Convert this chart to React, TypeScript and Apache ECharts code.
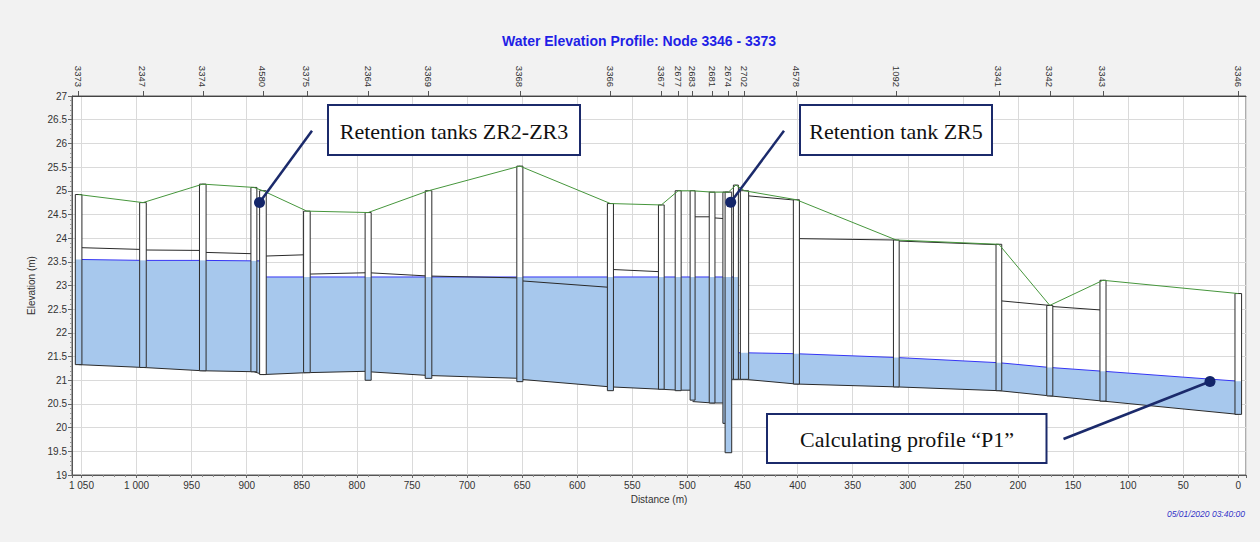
import React, { useEffect, useRef } from "react";
import * as echarts from "echarts";

// ---- Nodes (manholes / tanks), ordered left (upstream) to right ----
const nodeNames = ["3373", "2347", "3374", "", "4580", "3375", "2364", "3369", "3368", "3366", "3367", "2677", "2683", "2681", "", "2674", "", "2702", "4578", "1092", "3341", "3342", "3343", "3346"];
const nodeDist = [1052.6, 994.2, 939.9, 893.5, 885.3, 845.4, 789.8, 735.0, 652.1, 569.9, 523.7, 508.4, 495.3, 477.6, 465.3, 462.8, 456.0, 448.2, 401.1, 310.4, 217.3, 171.1, 122.8, 0];
const nodeWidth = [6, 6, 6, 5.4, 6, 6, 5.5, 6, 5.5, 5.5, 5.2, 5.4, 4.5, 5.2, 5.0, 6.0, 4.5, 7.5, 5.5, 5.2, 5.2, 5.5, 5.5, 6];
const nodeGround = [24.92, 24.75, 25.14, 25.07, 25.0, 24.57, 24.54, 25.0, 25.52, 24.73, 24.70, 25.0, 25.0, 24.97, 24.97, 24.97, 25.12, 25.0, 24.81, 23.96, 23.87, 22.58, 23.11, 22.83];
const nodeInvert = [21.33, 21.27, 21.20, 21.18, 21.12, 21.16, 21.0, 21.04, 20.97, 20.78, 20.81, 20.78, 20.58, 20.52, 20.09, 19.47, 21.02, 21.02, 20.92, 20.86, 20.78, 20.67, 20.56, 20.28];
const nodeWater: (number | null)[] = [23.55, 23.53, 23.53, 23.52, null, 23.18, 23.18, 23.18, 23.18, 23.18, 23.18, 23.18, 23.18, 23.18, 23.18, 23.18, 23.18, 21.58, 21.56, 21.48, 21.37, 21.27, 21.19, 20.98];

// ---- Links between consecutive nodes (left end / right end) ----
const linkCrownL: (number | null)[] = [23.80, 23.75, 23.70, null, 23.62, 23.24, 23.27, 23.20, 23.10, 23.34, null, null, 24.45, 24.43, null, null, null, 24.90, 23.99, 23.94, 22.68, 22.56, null];
const linkCrownR: (number | null)[] = [23.76, 23.74, 23.67, null, 23.65, 23.27, 23.20, 23.16, 22.96, 23.29, null, null, 24.45, 24.41, null, null, null, 24.80, 23.96, 23.86, 22.58, 22.48, null];
const linkInvL = [21.33, 21.27, 21.20, 21.18, 21.12, 21.16, 21.18, 21.10, 21.02, 20.86, 20.81, 20.79, 20.55, 20.52, 20.09, 21.02, 21.02, 21.02, 20.92, 20.86, 20.78, 20.67, 20.56];
const linkInvR = [21.27, 21.20, 21.18, 21.12, 21.16, 21.19, 21.10, 21.04, 20.86, 20.81, 20.79, 20.79, 20.52, 20.52, 20.09, 21.02, 21.02, 20.92, 20.86, 20.78, 20.67, 20.56, 20.28];
const linkWaterL = [23.55, 23.53, 23.53, 23.52, 23.18, 23.18, 23.18, 23.18, 23.18, 23.18, 23.18, 23.18, 23.18, 23.18, 23.18, 23.18, 21.58, 21.58, 21.56, 21.48, 21.37, 21.27, 21.19];
const linkWaterR = [23.53, 23.53, 23.52, 23.52, 23.18, 23.18, 23.18, 23.18, 23.18, 23.18, 23.18, 23.18, 23.18, 23.18, 23.18, 23.18, 21.58, 21.56, 21.48, 21.37, 21.27, 21.19, 20.98];

// ---- Axes ----
const xMin = -7;
const xMax = 1058.6;
const yMin = 19;
const yMax = 27;

const SANS = "'Liberation Sans', Arial, sans-serif";
const SERIF = "'Liberation Serif', 'Times New Roman', serif";
const WATER_FILL = "#a7c8ed";
const WATER_LINE = "#3535f5";
const PIPE = "#2a2a2a";
const GROUND = "#46963c";
const NAVY = "#1b2a6b";

function fmtDist(v: number): string {
  if (Math.abs(v % 50) > 1e-6) return "";
  if (v >= 1000) return "1 " + String(Math.round(v - 1000)).padStart(3, "0");
  return String(Math.round(v));
}

export default function App() {
  const ref = useRef<HTMLDivElement>(null);
  useEffect(() => {
    if (!ref.current) return;
    const chart = echarts.init(ref.current, null, { renderer: "svg" });
    const labeled = nodeDist.filter((_, i) => nodeNames[i] !== "");
    const nameMap = new Map<number, string>();
    nodeDist.forEach((d, i) => {
      if (nodeNames[i]) nameMap.set(d, nodeNames[i]);
    });

    const option: any = {
      animation: false,
      backgroundColor: "#f2f2f2",
      title: {
        text: "Water Elevation Profile: Node 3346 - 3373",
        left: 502,
        top: 34,
        padding: 0,
        textStyle: { color: "#1f1fe6", fontSize: 14, fontWeight: "bold", fontFamily: SANS },
      },
      grid: {
        left: 72, right: 14, top: 96, bottom: 67,
        show: true, backgroundColor: "#ffffff", borderColor: "#5a5a5a", borderWidth: 1,
      },
      xAxis: [
        {
          type: "value", position: "bottom", inverse: true,
          min: xMin, max: xMax, splitNumber: 21, minInterval: 50, maxInterval: 50,
          name: "Distance (m)", nameLocation: "middle", nameGap: 17,
          nameTextStyle: { fontSize: 10, color: "#333", fontFamily: SANS },
          axisLine: { show: true, onZero: false, lineStyle: { color: "#555" } },
          axisTick: { show: true, length: 3, lineStyle: { color: "#666" } },
          minorTick: { show: true, splitNumber: 5, length: 2, lineStyle: { color: "#888" } },
          axisLabel: { formatter: fmtDist, showMinLabel: false, showMaxLabel: false, margin: 5, fontSize: 10, color: "#333", fontFamily: SANS },
          splitLine: { show: true, lineStyle: { color: "#dadada", width: 1 } },
        },
        {
          type: "value", position: "top", inverse: true,
          min: xMin, max: xMax,
          axisLine: { show: true, onZero: false, lineStyle: { color: "#444" } },
          axisTick: { show: true, length: 5, customValues: labeled, lineStyle: { color: "#555" } },
          axisLabel: {
            customValues: labeled, rotate: 90, margin: 9, fontSize: 9.5, color: "#333", fontFamily: SANS,
            formatter: (v: number) => nameMap.get(v) ?? "",
          },
          splitLine: { show: false },
          minorTick: { show: false },
        },
      ],
      yAxis: {
        type: "value", min: yMin, max: yMax, interval: 0.5,
        name: "Elevation (m)", nameLocation: "middle", nameGap: 34, nameRotate: 90,
        nameTextStyle: { fontSize: 10, color: "#333", fontFamily: SANS },
        axisLine: { show: true, onZero: false, lineStyle: { color: "#555" } },
        axisTick: { show: true, length: 4, lineStyle: { color: "#666" } },
        minorTick: { show: true, splitNumber: 5, length: 2, lineStyle: { color: "#999" } },
        axisLabel: { margin: 5, fontSize: 10, color: "#333", fontFamily: SANS },
        splitLine: { show: true, lineStyle: { color: "#dadada", width: 1 } },
      },
      series: [
        {
          type: "custom", name: "links", xAxisIndex: 0, yAxisIndex: 0, silent: true,
          data: linkInvL.map((v, i) => [nodeDist[i], v]),
          renderItem: (params: any, api: any) => {
            const i = params.dataIndex;
            const xl = nodeDist[i];
            const xr = nodeDist[i + 1];
            const iL = api.coord([xl, linkInvL[i]]);
            const iR = api.coord([xr, linkInvR[i]]);
            const wL = api.coord([xl, linkWaterL[i]]);
            const wR = api.coord([xr, linkWaterR[i]]);
            const children: any[] = [
              { type: "polygon", shape: { points: [iL, iR, wR, wL] }, style: { fill: WATER_FILL } },
              { type: "line", shape: { x1: wL[0], y1: wL[1], x2: wR[0], y2: wR[1] }, style: { stroke: WATER_LINE, lineWidth: 1 } },
              { type: "line", shape: { x1: iL[0], y1: iL[1], x2: iR[0], y2: iR[1] }, style: { stroke: PIPE, lineWidth: 1 } },
            ];
            const cl = linkCrownL[i];
            const cr = linkCrownR[i];
            if (cl != null && cr != null) {
              const a = api.coord([xl, cl]);
              const b = api.coord([xr, cr]);
              children.push({ type: "line", shape: { x1: a[0], y1: a[1], x2: b[0], y2: b[1] }, style: { stroke: PIPE, lineWidth: 1 } });
            }
            return { type: "group", children };
          },
        },
        {
          type: "line", name: "ground", xAxisIndex: 0, yAxisIndex: 0, silent: true,
          data: nodeDist.map((d, i) => [d, nodeGround[i]]),
          symbol: "none",
          lineStyle: { color: GROUND, width: 1 },
        },
        {
          type: "custom", name: "nodes", xAxisIndex: 0, yAxisIndex: 0, silent: true,
          data: nodeDist.map((d, i) => [d, nodeGround[i]]),
          renderItem: (params: any, api: any) => {
            const i = params.dataIndex;
            const half = nodeWidth[i] / 2;
            const a = api.coord([nodeDist[i] + half, nodeGround[i]]);
            const b = api.coord([nodeDist[i] - half, nodeInvert[i]]);
            const x0 = Math.min(a[0], b[0]);
            const x1 = Math.max(a[0], b[0]);
            const y0 = a[1];
            const y1 = b[1];
            const children: any[] = [
              { type: "rect", shape: { x: x0, y: y0, width: x1 - x0, height: y1 - y0 }, style: { fill: "#ffffff" } },
            ];
            const w = nodeWater[i];
            if (w != null) {
              const wy = api.coord([nodeDist[i], w])[1];
              children.push({ type: "rect", shape: { x: x0, y: wy, width: x1 - x0, height: y1 - wy }, style: { fill: WATER_FILL } });
            }
            children.push({ type: "rect", shape: { x: x0, y: y0, width: x1 - x0, height: y1 - y0 }, style: { fill: "none", stroke: PIPE, lineWidth: 1 } });
            return { type: "group", children };
          },
        },
      ],
      graphic: [
        { type: "rect", z: 100, shape: { x: 328, y: 105, width: 252, height: 50 }, style: { fill: "#fff", stroke: NAVY, lineWidth: 2 } },
        { type: "text", z: 101, x: 454, y: 131, style: { text: "Retention tanks ZR2-ZR3", font: `22px ${SERIF}`, fill: "#111", align: "center", verticalAlign: "middle", textAlign: "center", textVerticalAlign: "middle" } },
        { type: "line", z: 100, shape: { x1: 312, y1: 130.7, x2: 259.5, y2: 202.5 }, style: { stroke: NAVY, lineWidth: 2.5 } },
        { type: "circle", z: 101, shape: { cx: 259.5, cy: 202.5, r: 5.5 }, style: { fill: "#132569" } },

        { type: "rect", z: 100, shape: { x: 800, y: 105, width: 192, height: 50 }, style: { fill: "#fff", stroke: NAVY, lineWidth: 2 } },
        { type: "text", z: 101, x: 896, y: 131, style: { text: "Retention tank ZR5", font: `22px ${SERIF}`, fill: "#111", align: "center", verticalAlign: "middle", textAlign: "center", textVerticalAlign: "middle" } },
        { type: "line", z: 100, shape: { x1: 784, y1: 130.7, x2: 730.7, y2: 202.3 }, style: { stroke: NAVY, lineWidth: 2.5 } },
        { type: "circle", z: 101, shape: { cx: 730.7, cy: 202.3, r: 5.5 }, style: { fill: "#132569" } },

        { type: "rect", z: 100, shape: { x: 767, y: 414, width: 279.5, height: 49 }, style: { fill: "#fff", stroke: NAVY, lineWidth: 2 } },
        { type: "text", z: 101, x: 907, y: 439.5, style: { text: "Calculating profile \u201cP1\u201d", font: `22px ${SERIF}`, fill: "#111", align: "center", verticalAlign: "middle", textAlign: "center", textVerticalAlign: "middle" } },
        { type: "line", z: 100, shape: { x1: 1063.5, y1: 439, x2: 1210, y2: 381.5 }, style: { stroke: NAVY, lineWidth: 2.5 } },
        { type: "circle", z: 101, shape: { cx: 1210, cy: 381.5, r: 5.5 }, style: { fill: "#132569" } },

        { type: "text", z: 101, x: 1245, y: 514, style: { text: "05/01/2020 03:40:00", font: `italic 8.5px ${SANS}`, fill: "#3434c8", align: "right", verticalAlign: "middle", textAlign: "right", textVerticalAlign: "middle" } },
      ],
    };
    chart.setOption(option);
    return () => chart.dispose();
  }, []);

  return (
    <div
      ref={ref}
      style={{ position: "fixed", left: 0, top: 0, width: 1260, height: 542 }}
    />
  );
}
